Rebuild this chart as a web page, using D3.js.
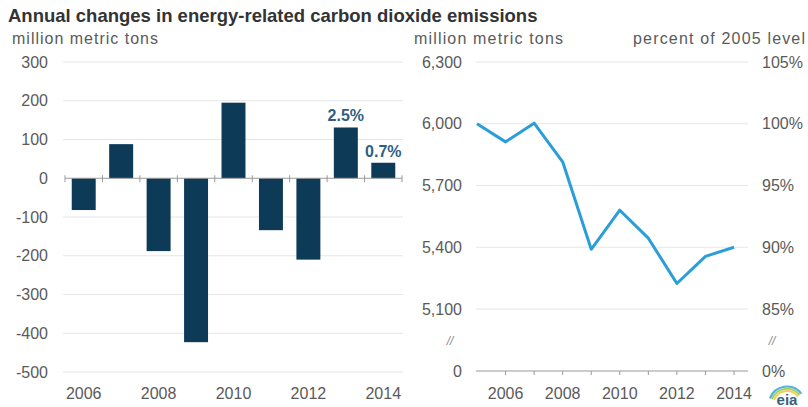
<!DOCTYPE html>
<html><head><meta charset="utf-8">
<script src="https://cdn.jsdelivr.net/npm/d3@7"></script>
<style>body{margin:0;background:#fff}svg{display:block}text{font-family:"Liberation Sans",Arial,sans-serif}</style>
</head><body><svg id="c" width="808" height="407"></svg>
<script>
const years = [2006,2007,2008,2009,2010,2011,2012,2013,2014];
const changes = [-82,88,-188,-423,195,-134,-210,131,40];
const barLabels = [null,null,null,null,null,null,null,"2.5%","0.7%"];
const lineYears = [2005,2006,2007,2008,2009,2010,2011,2012,2013,2014];
const emissions = [6000,5912,6003,5815,5390,5580,5444,5224,5356,5400];
const leftTicks = [300,200,100,0,-100,-200,-300,-400,-500];
const rightTicks = [0,5100,5400,5700,6000,6300];
const xTickLabels = [2006,2008,2010,2012,2014];

const svg = d3.select("#c");
const grey = "#5a5a5a", grid = "#e6e6e6", fs = 16;

svg.append("text").attr("x",8).attr("y",22).attr("font-size",18.5).attr("font-weight","bold").attr("fill","#333")
  .text("Annual changes in energy-related carbon dioxide emissions");
svg.append("text").attr("x",12).attr("y",44).attr("font-size",16).attr("fill",grey)
  .attr("textLength",146).attr("lengthAdjust","spacing").text("million metric tons");
svg.append("text").attr("x",414).attr("y",44).attr("font-size",16).attr("fill",grey)
  .attr("textLength",149).attr("lengthAdjust","spacing").text("million metric tons");
svg.append("text").attr("x",633).attr("y",44).attr("font-size",16).attr("fill",grey)
  .attr("textLength",172).attr("lengthAdjust","spacing").text("percent of 2005 level");

// left bar chart
const xb = d3.scaleBand().domain(years).range([65,402]).paddingInner(0.36).paddingOuter(0.18);
const yb = d3.scaleLinear().domain([-500,300]).range([372,62]);
const gl = svg.append("g");
gl.selectAll("line.g").data(leftTicks.filter(d=>d!==0)).join("line").attr("class","g")
  .attr("x1",63).attr("x2",403).attr("y1",d=>yb(d)).attr("y2",d=>yb(d)).attr("stroke",grid).attr("stroke-width",1.2);
gl.selectAll("text.t").data(leftTicks).join("text").attr("class","t")
  .attr("x",48).attr("y",d=>yb(d)).attr("dy","0.35em").attr("text-anchor","end").attr("font-size",fs).attr("fill",grey)
  .text(d=>d);
gl.selectAll("rect").data(years).join("rect")
  .attr("x",d=>xb(d)).attr("width",xb.bandwidth())
  .attr("y",(d,i)=>yb(Math.max(0,changes[i]))).attr("height",(d,i)=>Math.abs(yb(changes[i])-yb(0)))
  .attr("fill","#0c3a57");
gl.append("line").attr("x1",65).attr("x2",402).attr("y1",yb(0)).attr("y2",yb(0)).attr("stroke","#999").attr("stroke-width",1);
const bounds = years.map(y=>xb(y)-xb.step()*xb.paddingInner()/2).concat([402]);
gl.selectAll("line.tk").data(bounds).join("line").attr("class","tk")
  .attr("x1",d=>d).attr("x2",d=>d).attr("y1",yb(0)-3).attr("y2",yb(0)+4).attr("stroke","#999");
gl.selectAll("text.bl").data(years.filter((d,i)=>barLabels[i])).join("text").attr("class","bl")
  .attr("x",d=>xb(d)+xb.bandwidth()/2).attr("y",d=>yb(changes[years.indexOf(d)])-6)
  .attr("text-anchor","middle").attr("font-size",fs).attr("font-weight","bold").attr("fill","#2d5f82")
  .text(d=>barLabels[years.indexOf(d)]);
gl.selectAll("text.xl").data(xTickLabels).join("text").attr("class","xl")
  .attr("x",d=>xb(d)+xb.bandwidth()/2).attr("y",399).attr("text-anchor","middle").attr("font-size",fs).attr("fill",grey).text(d=>d);

// right line chart
const xl = d3.scaleLinear().domain([2005,2014]).range([477,734]);
const yl = d3.scaleLinear().domain([0,5100,6300]).range([371,309,62]);
const gr = svg.append("g");
gr.selectAll("line.g").data(rightTicks.filter(d=>d!==0)).join("line").attr("class","g")
  .attr("x1",476).attr("x2",748).attr("y1",d=>yl(d)).attr("y2",d=>yl(d)).attr("stroke",grid).attr("stroke-width",1.2);
gr.selectAll("text.t").data(rightTicks).join("text").attr("class","t")
  .attr("x",462).attr("y",d=>yl(d)).attr("dy","0.35em").attr("text-anchor","end").attr("font-size",fs).attr("fill",grey)
  .text(d=>d===0?"0":d3.format(",")(d));
gr.selectAll("text.p").data(rightTicks).join("text").attr("class","p")
  .attr("x",762).attr("y",d=>yl(d)).attr("dy","0.35em").attr("font-size",fs).attr("fill",grey)
  .text(d=>Math.round(d/6000*100)+"%");
[450,772].forEach(x=>gr.append("text").attr("x",x).attr("y",341).attr("dy","0.35em").attr("text-anchor","middle")
  .attr("font-size",12).attr("font-style","italic").attr("fill","#888").text("//"));
gr.append("line").attr("x1",476).attr("x2",748).attr("y1",yl(0)).attr("y2",yl(0)).attr("stroke","#999");
gr.selectAll("line.tk").data(years).join("line").attr("class","tk")
  .attr("x1",d=>xl(d)).attr("x2",d=>xl(d)).attr("y1",yl(0)).attr("y2",yl(0)+4).attr("stroke","#999");
gr.append("path").datum(lineYears.map((y,i)=>[y,emissions[i]]))
  .attr("d",d3.line().x(d=>xl(d[0])).y(d=>yl(d[1])))
  .attr("fill","none").attr("stroke","#2b9ed8").attr("stroke-width",3).attr("stroke-linejoin","round");
gr.selectAll("text.xl").data(xTickLabels).join("text").attr("class","xl")
  .attr("x",d=>xl(d)).attr("y",399).attr("text-anchor","middle").attr("font-size",fs).attr("fill",grey).text(d=>d);

// eia logo
const lg = svg.append("g").attr("transform","translate(787,405)");
const cols = ["#f2c12e","#8cc63f","#2b9ed8"];
cols.forEach((c,i)=>lg.append("path").attr("d",d3.arc()({innerRadius:13+i*2.2,outerRadius:15+i*2.2,startAngle:-1.2,endAngle:0.9}))
  .attr("fill",c).attr("opacity",0.8));
lg.append("text").attr("x",0).attr("y",0).attr("text-anchor","middle").attr("font-size",15).attr("font-weight","bold").attr("fill","#3a5f7d").text("eia");
</script></body></html>
